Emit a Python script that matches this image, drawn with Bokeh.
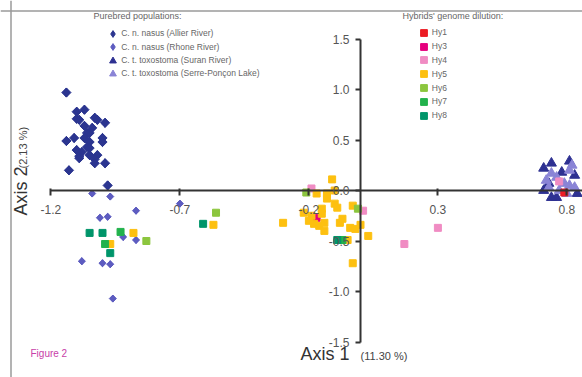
import math
from bokeh.plotting import figure
from bokeh.models import (Range1d, LinearAxis, FixedTicker, PrintfTickFormatter,
                          Legend, LegendItem, Label, Span)
from bokeh.embed import file_html
from bokeh.resources import INLINE

# ---------------- data ----------------
allier_x = [-1.14, -1.10, -1.07, -1.10, -1.09, -1.03, -1.02, -0.99, -1.06, -1.05, -1.07, -1.11,
            -1.14, -1.00, -1.00, -1.05, -1.06, -1.05, -1.10, -1.08, -1.09, -1.09, -1.05, -1.02,
            -1.03, -1.03, -0.99, -1.13, -0.98, -1.04, -1.07]
allier_y = [0.97, 0.78, 0.80, 0.71, 0.70, 0.72, 0.70, 0.67, 0.57, 0.57, 0.52, 0.52,
            0.49, 0.52, 0.48, 0.48, 0.43, 0.42, 0.40, 0.38, 0.34, 0.32, 0.35, 0.35,
            0.31, 0.27, 0.27, 0.20, 0.05, 0.62, 0.64]
rhone_x = [-1.04, -0.97, -1.01, -0.98, -0.87, -0.92, -0.87, -1.08, -1.00, -0.97, -0.96, -0.70]
rhone_y = [-0.03, -0.06, -0.27, -0.26, -0.20, -0.46, -0.49, -0.70, -0.72, -0.73, -1.07, -0.13]
suran_x = [0.71, 0.74, 0.81, 0.78, 0.73, 0.71, 0.76, 0.83, 0.84, 0.74]
suran_y = [0.22, 0.27, 0.29, 0.18, 0.07, 0.00, -0.07, 0.15, -0.03, -0.07]
serre_x = [0.76, 0.79, 0.73, 0.81, 0.81, 0.80, 0.77, 0.83, 0.74, 0.82, 0.72]
serre_y = [0.13, 0.07, 0.03, 0.05, 0.20, -0.03, 0.00, 0.03, 0.17, 0.25, 0.10]

hy1_x = [0.79]
hy1_y = [-0.02]
hy3_x = [-0.17]
hy3_y = [-0.27]
hy4_x = [-0.19, 0.01, 0.17, 0.30, 0.77]
hy4_y = [0.02, -0.20, -0.53, -0.37, 0.09]
hy5_x = [-0.11, -0.10, -0.17, -0.13, -0.13, -0.10, -0.09, -0.15, -0.15, -0.03, -0.19, -0.20,
         -0.18, -0.16, -0.14, -0.14, -0.08, -0.07, -0.04, -0.02, 0.00, 0.03, -0.05, -0.03,
         -0.30, -0.57, -0.88, -0.97, -0.22]
hy5_y = [0.11, 0.00, -0.03, -0.03, -0.08, -0.13, -0.17, -0.18, -0.23, -0.15, -0.25, -0.30,
         -0.33, -0.35, -0.40, -0.32, -0.32, -0.28, -0.37, -0.38, -0.34, -0.45, -0.49, -0.72,
         -0.32, -0.34, -0.42, -0.53, -0.22]
hy6_x = [-0.21, -0.01, -0.56, -0.83]
hy6_y = [-0.02, -0.18, -0.22, -0.50]
hy7_x = [-0.93, -0.99, -0.07]
hy7_y = [-0.41, -0.53, -0.49]
hy8_x = [-1.05, -1.00, -0.97, -0.61, -0.09]
hy8_y = [-0.42, -0.42, -0.62, -0.33, -0.49]

x_ticks = [-1.2, -0.7, -0.2, 0.3, 0.8]
y_ticks = [-1.5, -1.0, -0.5, 0.0, 0.5, 1.0, 1.5]

pure_labels = ["C. n. nasus (Allier River)", "C. n. nasus (Rhone River)",
               "C. t. toxostoma (Suran River)", "C. t. toxostoma (Serre-Ponçon Lake)"]
hy_labels = ["Hy1", "Hy3", "Hy4", "Hy5", "Hy6", "Hy7", "Hy8"]

# ---------------- geometry helpers (canvas pixel -> data) ----------------
X0, SX = 360.0, 258.0   # canvas x of origin, px per unit
Y0, SY = 190.0, 101.0   # canvas y of origin, px per unit
W, H = 582, 377


def dx(px):
    return (px - X0) / SX


def dy(py):
    return (Y0 - py) / SY


FONT = "Liberation Sans"

p = figure(width=W, height=H, output_backend="svg", toolbar_location=None,
           x_axis_type=None, y_axis_type=None, min_border=0,
           x_range=Range1d(dx(0), dx(W)), y_range=Range1d(dy(H), dy(0)))
p.grid.visible = False
p.outline_line_color = None
p.background_fill_color = "white"
p.border_fill_color = "white"

# crossing axes
xaxis = LinearAxis(fixed_location=0, ticker=FixedTicker(ticks=x_ticks),
                   formatter=PrintfTickFormatter(format="%.1f"))
xaxis.bounds = (x_ticks[0], dx(W))
yaxis = LinearAxis(fixed_location=0, ticker=FixedTicker(ticks=y_ticks),
                   formatter=PrintfTickFormatter(format="%.1f"))
yaxis.bounds = (y_ticks[0], y_ticks[-1])
for ax in (xaxis, yaxis):
    ax.axis_line_color = "#333333"
    ax.axis_line_width = 2
    ax.major_tick_line_color = "#333333"
    ax.major_tick_line_width = 2
    ax.minor_tick_line_color = None
    ax.major_label_text_font = FONT
    ax.major_label_text_font_size = "12px"
    ax.major_label_text_color = "#555555"
xaxis.major_tick_out = 5
xaxis.major_tick_in = 2
xaxis.major_label_standoff = 9
yaxis.major_tick_out = 5
yaxis.major_tick_in = 0
yaxis.major_label_standoff = 6
p.add_layout(xaxis, "below")
p.add_layout(yaxis, "left")

# frame border lines (left and top)
p.add_layout(Span(location=dx(10.5), dimension="height", line_color="#9a9a9a", line_width=1.5))
p.add_layout(Span(location=dy(10.5), dimension="width", line_color="#9a9a9a", line_width=1.5))

# purebred: plain diamonds (used by the legend) covered by squares turned 45 degrees
c_all, c_rho = "#2b3590", "#5d5cc0"
r_all = p.scatter(allier_x, allier_y, marker="diamond", size=9, color=c_all)
r_rho = p.scatter(rhone_x, rhone_y, marker="diamond", size=7, color=c_rho)
p.scatter(allier_x, allier_y, marker="square", angle=math.pi / 4, size=6.5, color=c_all)
p.scatter(rhone_x, rhone_y, marker="square", angle=math.pi / 4, size=5, color=c_rho)
r_sur = p.scatter(suran_x, suran_y, marker="triangle", size=10, color="#2e3192")
r_ser = p.scatter(serre_x, serre_y, marker="triangle", size=10, color="#8a84d6")

# hybrids
hcols = ["#ec1c24", "#e6007e", "#f08cc3", "#fdc010", "#8cc63e", "#22b24c", "#00956a"]
hxs = [hy1_x, hy3_x, hy4_x, hy5_x, hy6_x, hy7_x, hy8_x]
hys = [hy1_y, hy3_y, hy4_y, hy5_y, hy6_y, hy7_y, hy8_y]
h_rs = []
for xs, ys, c in zip(hxs, hys, hcols):
    h_rs.append(p.scatter(xs, ys, marker="square", size=7, color=c))


# legends: one single-row legend per entry so that the key glyphs can be larger
GL = 17


def add_legend_row(label, renderer, glyph_cx, row_cy):
    lg = Legend(items=[LegendItem(label=label, renderers=[renderer])],
                location=(glyph_cx - GL / 2, H - (row_cy + GL / 2)))
    lg.background_fill_alpha = 0
    lg.border_line_color = None
    lg.padding = 0
    lg.margin = 0
    lg.spacing = 0
    lg.label_text_font = FONT
    lg.label_text_font_size = "8.5px"
    lg.label_text_color = "#666666"
    lg.glyph_width = GL
    lg.glyph_height = GL
    lg.label_height = GL
    lg.label_standoff = 0
    p.add_layout(lg)


for i, (lab, r) in enumerate(zip(pure_labels, [r_all, r_rho, r_sur, r_ser])):
    add_legend_row(lab, r, 112.7, 33.3 + 13.35 * i)
for i, (lab, r) in enumerate(zip(hy_labels, h_rs)):
    add_legend_row(lab, r, 423.3, 32.3 + 13.8 * i)

# legend titles
p.add_layout(Label(x=dx(93), y=dy(15), text="Purebred populations:", text_font=FONT,
                   text_font_size="9px", text_color="#666666", text_baseline="middle"))
p.add_layout(Label(x=dx(402), y=dy(15), text="Hybrids' genome dilution:", text_font=FONT,
                   text_font_size="9px", text_color="#666666", text_baseline="middle"))

# axis titles
p.add_layout(Label(x=dx(300), y=dy(353), text="Axis 1", text_font=FONT,
                   text_font_size="18px", text_color="#333333", text_baseline="middle"))
p.add_layout(Label(x=dx(360), y=dy(355), text="(11.30 %)", text_font=FONT,
                   text_font_size="11px", text_color="#444444", text_baseline="middle"))
p.add_layout(Label(x=dx(20), y=dy(215), text="Axis 2", angle=math.pi / 2, text_font=FONT,
                   text_font_size="18px", text_color="#333333", text_baseline="middle"))
p.add_layout(Label(x=dx(22), y=dy(168), text="(2.13 %)", angle=math.pi / 2, text_font=FONT,
                   text_font_size="11px", text_color="#444444", text_baseline="middle"))
p.add_layout(Label(x=dx(30), y=dy(353), text="Figure 2", text_font=FONT,
                   text_font_size="10px", text_color="#c83ea8", text_baseline="middle"))

open("out.html", "w").write(file_html(p, INLINE))
